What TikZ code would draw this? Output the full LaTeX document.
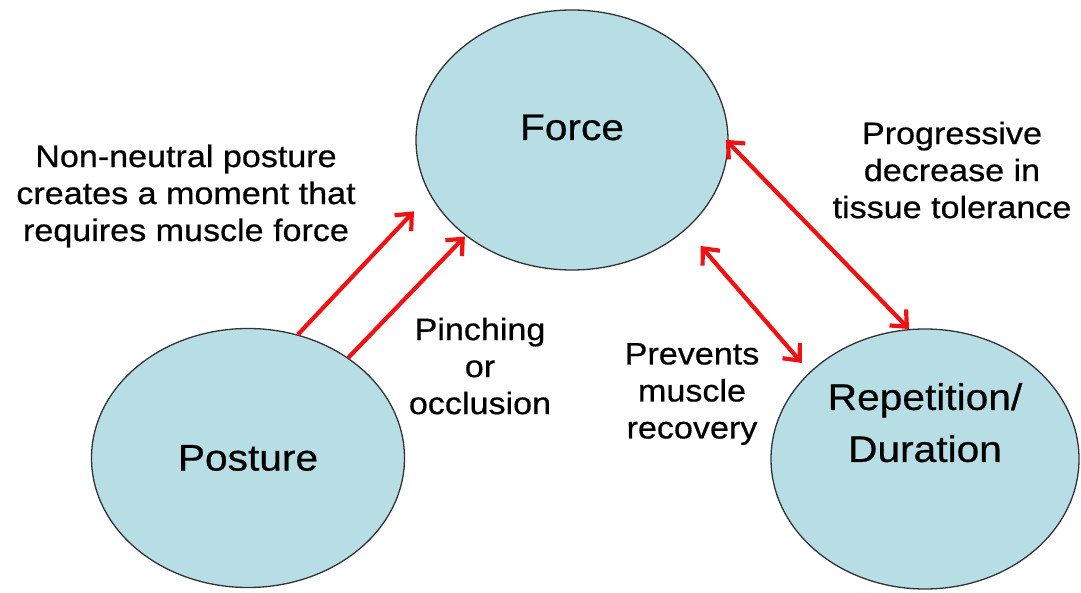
\documentclass[tikz,border=0pt]{standalone}
\usepackage{fontspec}
\setmainfont{Liberation Sans}[FakeStretch=1.1,FakeBold=0.6]
\usetikzlibrary{shapes.geometric,arrows.meta}
\definecolor{factorfill}{RGB}{183,222,228}
\definecolor{linkred}{RGB}{240,18,18}

\begin{document}
\begin{tikzpicture}[x=1pt,y=1pt,
    factor/.style={ellipse, draw=black!80, line width=1.3pt, fill=factorfill, inner sep=0pt,
        align=center, font=\fontsize{37}{52}\selectfont},
    note/.style={align=center, inner sep=0pt, font=\fontsize{31}{37}\selectfont},
    link/.style={draw=linkred, line width=4.2pt, -{Straight Barb[length=13pt,width=23pt]}},
    twoway/.style={link, {Straight Barb[length=13pt,width=23pt]}-{Straight Barb[length=13pt,width=23pt]}}]
    \useasboundingbox (0,0) rectangle (1081,592);

    % Factors
    \node[factor, minimum width=312pt, minimum height=260pt, text height=27pt, text depth=27pt] (force) at (572,452) {Force};
    \node[factor, minimum width=313pt, minimum height=259pt] (posture) at (248,134) {Posture};
    \node[factor, minimum width=308pt, minimum height=260pt, text depth=73pt] (repetition) at (925,133) {Repetition/\\Duration};

    % Notes
    \node[note] (momentnote) at (186,396) {Non-neutral posture\\creates a moment that\\requires muscle force};
    \node[note] (pinchnote) at (480,226) {Pinching\\or\\occlusion};
    \node[note] (recoverynote) at (692,198) {Prevents\\muscle\\recovery};
    \node[note] (tolerancenote) at (952,422) {Progressive\\decrease in\\tissue tolerance};

    % Links
    \draw[link, shorten >=23pt] (posture.68) -- (force.201);
    \draw[link, shorten >=1pt] (posture.45) -- (force.222);
    \draw[twoway, shorten <=-4pt] (force.-1) -- (repetition.97);
    \draw[twoway, shorten <=22pt, shorten >=12pt] (force.-38) -- (repetition.143);
\end{tikzpicture}
\end{document}
